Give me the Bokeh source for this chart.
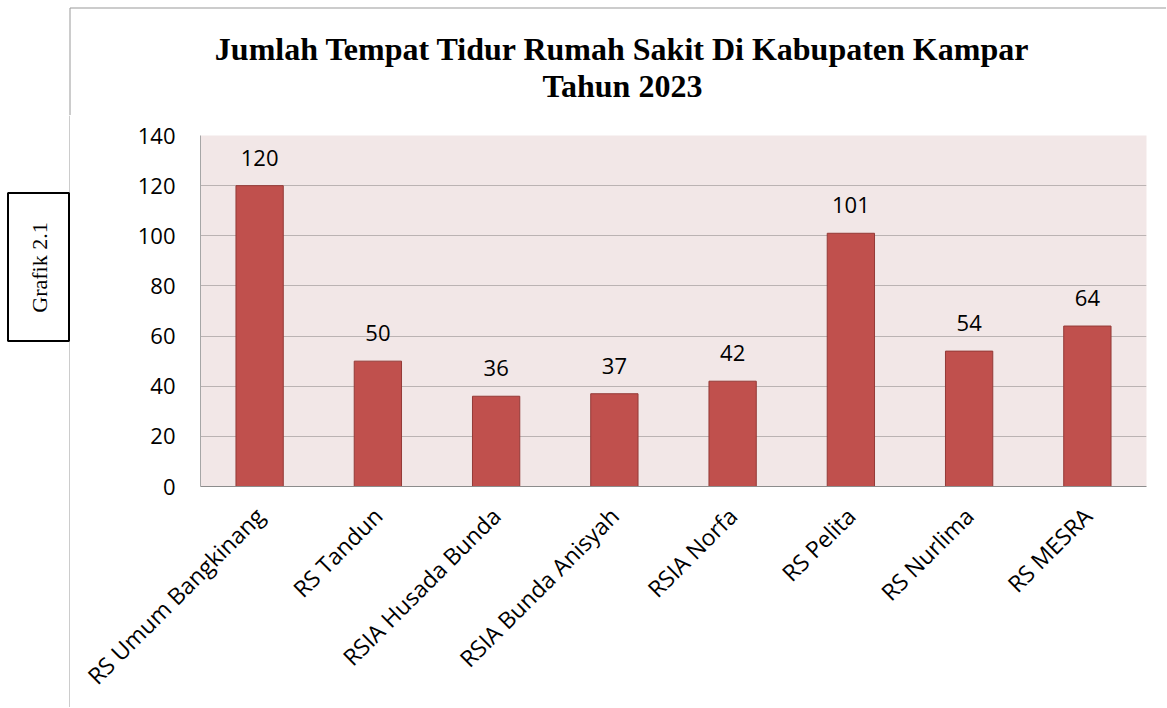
import math
from bokeh.plotting import figure
from bokeh.layouts import row, column
from bokeh.models import Range1d, FixedTicker, ColumnDataSource
from bokeh.core.properties import value
from bokeh.embed import file_html
from bokeh.resources import INLINE

categories = ["RS Umum Bangkinang", "RS Tandun", "RSIA Husada Bunda", "RSIA Bunda Anisyah",
              "RSIA Norfa", "RS Pelita", "RS Nurlima", "RS MESRA"]
beds = [120, 50, 36, 37, 42, 101, 54, 64]
y_ticks = [0, 20, 40, 60, 80, 100, 120, 140]
title_lines = ["Jumlah Tempat Tidur Rumah Sakit Di Kabupaten Kampar", "Tahun 2023"]
side_label = "Grafik 2.1"

FRAME_GRAY = "#999999"
TOTAL_W = 1166
TOP_H = 115
BODY_H = 592


def blank(w, h):
    f = figure(width=w, height=h, x_range=Range1d(0, w), y_range=Range1d(h, 0),
               x_axis_type=None, y_axis_type=None, output_backend="svg",
               toolbar_location=None, min_border=0)
    f.outline_line_color = None
    f.background_fill_color = "white"
    f.border_fill_color = "white"
    f.grid.visible = False
    return f


# ---- top strip: title + outer frame lines
T = blank(TOTAL_W, TOP_H)
T.segment(x0=[69.5, 69.5], y0=[7.5, 7.5], x1=[TOTAL_W, 69.5], y1=[7.5, TOP_H],
          line_color=FRAME_GRAY, line_width=1)
T.text(x=[622, 622], y=[48, 85], text=title_lines, text_align="center",
       text_baseline="middle", text_font=value("Liberation Serif"), text_font_style="bold",
       text_font_size="32px", text_color="black")

# ---- left strip: outer frame line + "Grafik 2.1" box (page y offset = TOP_H)
L = blank(70, BODY_H)
L.segment(x0=[69.5], y0=[0], x1=[69.5], y1=[BODY_H], line_color=FRAME_GRAY, line_width=1)
L.quad(left=[7.5], right=[68.5], top=[192.5 - TOP_H], bottom=[340.5 - TOP_H],
       fill_color=None, line_color="black", line_width=2)
L.text(x=[38.5], y=[267 - TOP_H], text=[side_label], angle=math.pi / 2, text_align="center",
       text_baseline="middle", text_font=value("Liberation Serif"), text_font_size="22px",
       text_color="black")

# ---- main chart
src = ColumnDataSource(dict(cat=categories, beds=beds, lbl=[str(v) for v in beds]))
MW = TOTAL_W - 70
p = figure(x_range=categories, y_range=Range1d(0, 140), width=MW, height=BODY_H,
           output_backend="svg", toolbar_location=None,
           min_border_left=130, min_border_top=135 - TOP_H, min_border_right=MW - 1076,
           min_border_bottom=BODY_H - (486 - TOP_H))
p.background_fill_color = "#F2E7E7"
p.border_fill_color = "white"
p.outline_line_color = None

p.vbar(x="cat", top="beds", width=0.4, source=src, fill_color="#C0504D",
       line_color="#943A37", line_width=1)

p.text(x="cat", y="beds", text="lbl", source=src, text_align="center",
       text_baseline="alphabetic", y_offset=-28, text_font=value("Open Sans"),
       text_font_size="22px", text_color="black")

p.yaxis.ticker = FixedTicker(ticks=y_ticks)
p.ygrid.ticker = FixedTicker(ticks=y_ticks)
p.ygrid.grid_line_color = "#BBB3B3"
p.ygrid.grid_line_width = 1
p.xgrid.grid_line_color = None

for ax in (p.xaxis[0], p.yaxis[0]):
    ax.major_tick_in = 0
    ax.major_tick_out = 0
    ax.minor_tick_in = 0
    ax.minor_tick_out = 0
    ax.major_label_text_font = "Open Sans"
    ax.major_label_text_color = "black"
p.yaxis.major_label_text_font_size = "22px"
p.xaxis.major_label_text_font_size = "23px"
p.yaxis.axis_line_color = "#A6A6A6"
p.xaxis.axis_line_color = "#8C8C8C"
p.yaxis.major_label_standoff = 25
p.xaxis.major_label_standoff = 25
p.xaxis.major_label_orientation = math.pi / 4

# nest the chart in its own column so the row does not align L's frame with the chart frame
layout = column(T, row(L, column(p)))
open("out.html", "w").write(file_html(layout, INLINE))
